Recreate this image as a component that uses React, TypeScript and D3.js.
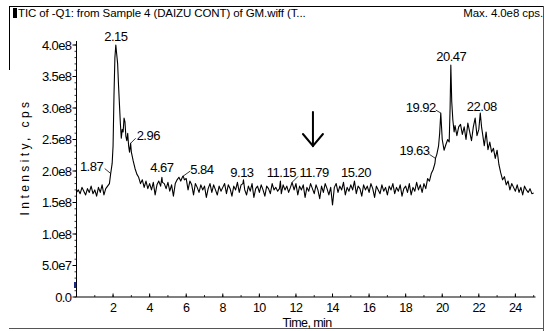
import React from "react";
import * as d3 from "d3";

// Total ion chromatogram (TIC), intensity in units of 1e8 cps
const scanTimes = [
  0.0, 0.1, 0.2, 0.3, 0.4, 0.5, 0.6, 0.7, 0.8, 0.9,
  1.0, 1.1, 1.2, 1.3, 1.4, 1.5, 1.6, 1.7, 1.8, 1.87, 1.95,
  2.0, 2.05, 2.1, 2.15, 2.2, 2.25, 2.3, 2.35, 2.4, 2.45, 2.5, 2.55, 2.6, 2.65, 2.7, 2.75, 2.8, 2.85, 2.9, 2.96,
  3.0, 3.1, 3.2, 3.3, 3.4, 3.5, 3.6, 3.7, 3.8, 3.9,
  4.0, 4.1, 4.2, 4.3, 4.4, 4.5, 4.6, 4.67, 4.7, 4.8, 4.9,
  5.0, 5.1, 5.2, 5.3, 5.4, 5.5, 5.6, 5.7, 5.8, 5.84, 5.9,
  6.0, 6.1, 6.2, 6.3, 6.4, 6.5, 6.6, 6.7, 6.8, 6.9,
  7.0, 7.1, 7.2, 7.3, 7.4, 7.5, 7.6, 7.7, 7.8, 7.9,
  8.0, 8.1, 8.2, 8.3, 8.4, 8.5, 8.6, 8.7, 8.8, 8.9,
  9.0, 9.1, 9.13, 9.2, 9.3, 9.4, 9.5, 9.6, 9.7, 9.8, 9.9,
  10.0, 10.1, 10.2, 10.3, 10.4, 10.5, 10.6, 10.7, 10.8, 10.9,
  11.0, 11.1, 11.15, 11.2, 11.3, 11.4, 11.5, 11.6, 11.7, 11.79, 11.9,
  12.0, 12.1, 12.2, 12.3, 12.4, 12.5, 12.6, 12.7, 12.8, 12.9,
  13.0, 13.1, 13.2, 13.3, 13.4, 13.5, 13.6, 13.7, 13.8, 13.9,
  14.0, 14.1, 14.2, 14.3, 14.4, 14.5, 14.6, 14.7, 14.8, 14.9,
  15.0, 15.1, 15.2, 15.3, 15.4, 15.5, 15.6, 15.7, 15.8, 15.9,
  16.0, 16.1, 16.2, 16.3, 16.4, 16.5, 16.6, 16.7, 16.8, 16.9,
  17.0, 17.1, 17.2, 17.3, 17.4, 17.5, 17.6, 17.7, 17.8, 17.9,
  18.0, 18.1, 18.2, 18.3, 18.4, 18.5, 18.6, 18.7, 18.8, 18.9,
  19.0, 19.1, 19.2, 19.3, 19.4, 19.5, 19.6, 19.63, 19.7, 19.8, 19.86, 19.92,
  20.0, 20.1, 20.2, 20.3, 20.38, 20.43, 20.47, 20.52, 20.58, 20.65, 20.7, 20.8, 20.9,
  21.0, 21.1, 21.2, 21.3, 21.4, 21.5, 21.6, 21.7, 21.8, 21.9,
  22.0, 22.08, 22.15, 22.2, 22.3, 22.4, 22.5, 22.6, 22.7, 22.8, 22.9,
  23.0, 23.1, 23.2, 23.3, 23.4, 23.5, 23.6, 23.7, 23.8, 23.9,
  24.0, 24.1, 24.2, 24.3, 24.4, 24.5, 24.6, 24.7, 24.8, 24.9, 25.0,
];

const intensityE8 = [
  1.66, 1.70, 1.64, 1.74, 1.68, 1.62, 1.72, 1.66, 1.76, 1.64,
  1.70, 1.60, 1.74, 1.66, 1.78, 1.62, 1.72, 1.76, 1.80, 1.96, 2.12,
  2.40, 3.20, 3.80, 4.00, 3.85, 3.70, 3.35, 3.05, 2.75, 2.52, 2.66, 2.62, 2.84, 2.78, 2.55, 2.48, 2.60, 2.40, 2.30, 2.44,
  2.30, 2.16, 2.04, 1.95, 1.90, 1.80, 1.86, 1.74, 1.84, 1.72,
  1.80, 1.70, 1.82, 1.62, 1.78, 1.84, 1.76, 1.90, 1.82, 1.80, 1.72,
  1.82, 1.68, 1.78, 1.60, 1.80, 1.86, 1.90, 1.84, 1.91, 1.92, 1.86,
  1.88, 1.70, 1.84, 1.78, 1.62, 1.80, 1.74, 1.66, 1.78, 1.70,
  1.76, 1.58, 1.72, 1.80, 1.66, 1.78, 1.70, 1.62, 1.76, 1.68,
  1.74, 1.80, 1.64, 1.78, 1.72, 1.60, 1.76, 1.70, 1.82, 1.66,
  1.78, 1.80, 1.86, 1.70, 1.62, 1.76, 1.68, 1.80, 1.58, 1.72, 1.76,
  1.66, 1.78, 1.70, 1.60, 1.76, 1.72, 1.64, 1.80, 1.70, 1.74,
  1.68, 1.72, 1.84, 1.64, 1.78, 1.70, 1.76, 1.66, 1.74, 1.82, 1.70,
  1.80, 1.62, 1.76, 1.70, 1.78, 1.58, 1.74, 1.68, 1.80, 1.72,
  1.64, 1.78, 1.70, 1.56, 1.76, 1.66, 1.80, 1.72, 1.62, 1.74,
  1.46, 1.74, 1.80, 1.66, 1.76, 1.70, 1.82, 1.62, 1.74, 1.68,
  1.78, 1.70, 1.84, 1.64, 1.76, 1.72, 1.60, 1.78, 1.70, 1.76,
  1.66, 1.80, 1.72, 1.58, 1.76, 1.70, 1.64, 1.78, 1.68, 1.74,
  1.62, 1.76, 1.70, 1.80, 1.64, 1.74, 1.68, 1.78, 1.60, 1.72,
  1.76, 1.66, 1.80, 1.62, 1.74, 1.68, 1.82, 1.70, 1.78, 1.66,
  1.80, 1.72, 1.88, 1.84, 1.96, 2.02, 2.12, 2.20, 2.26, 2.40, 2.60, 2.92,
  2.50, 2.33, 2.42, 2.50, 2.46, 3.00, 3.68, 3.10, 2.81, 2.62, 2.72, 2.56, 2.70,
  2.74, 2.58, 2.70, 2.50, 2.76, 2.62, 2.48, 2.70, 2.84, 2.56,
  2.66, 2.92, 2.70, 2.60, 2.40, 2.62, 2.34, 2.46, 2.30, 2.36, 2.20,
  2.33, 2.10, 1.97, 1.86, 1.91, 1.78, 1.84, 1.70, 1.80, 1.74,
  1.68, 1.78, 1.66, 1.74, 1.62, 1.76, 1.70, 1.66, 1.72, 1.64, 1.65,
];

const xTickValues = [2, 4, 6, 8, 10, 12, 14, 16, 18, 20, 22, 24];
const xMinorValues = d3.range(1, 26);
const yTickValues = [0, 0.5, 1.0, 1.5, 2.0, 2.5, 3.0, 3.5, 4.0];
const yTickLabels = ["0.0", "5.0e7", "1.0e8", "1.5e8", "2.0e8", "2.5e8", "3.0e8", "3.5e8", "4.0e8"];
const yMinorValues = d3.range(0, 41).map((i) => i / 10);

const peakTimes = [1.87, 2.15, 2.96, 4.67, 5.84, 9.13, 11.15, 11.79, 15.2, 19.63, 19.92, 20.47, 22.08];
const peakLabels = ["1.87", "2.15", "2.96", "4.67", "5.84", "9.13", "11.15", "11.79", "15.20", "19.63", "19.92", "20.47", "22.08"];

// Label placement around each apex: text offset, anchor and optional leader line
const labelLayout: { dx: number; dy: number; anchor: string; leader?: [number, number] }[] = [
  { dx: -7.5, dy: -3, anchor: "end", leader: [-6, -5] },
  { dx: 0, dy: -4, anchor: "middle" },
  { dx: 6, dy: -3, anchor: "start", leader: [5, -5] },
  { dx: 0, dy: -5, anchor: "middle" },
  { dx: 7, dy: -2, anchor: "start", leader: [7, -5] },
  { dx: -1.5, dy: -3, anchor: "middle" },
  { dx: 1, dy: -4, anchor: "middle" },
  { dx: 7.5, dy: -5, anchor: "start", leader: [6, -6] },
  { dx: 1.5, dy: -4, anchor: "middle" },
  { dx: -6, dy: -3, anchor: "end", leader: [-6, -4] },
  { dx: -5, dy: -1, anchor: "end", leader: [-5, -3] },
  { dx: 0.5, dy: -4, anchor: "middle" },
  { dx: 1.5, dy: -2, anchor: "middle" },
];

const FONT = "'Liberation Sans', Arial, sans-serif";

export default function App() {
  const x = d3.scaleLinear().domain([0, 25.1]).range([76.5, 535.5]);
  const y = d3.scaleLinear().domain([0, 4.0]).range([297, 45]);

  const points = scanTimes.map((t, i) => [t, intensityE8[i]] as [number, number]);
  const line = d3
    .line<[number, number]>()
    .x((d) => x(d[0]))
    .y((d) => y(d[1]));

  const x0 = x(0);
  const y0 = y(0);

  return (
    <svg
      width={548}
      height={331}
      style={{ position: "absolute", left: 0, top: 0, background: "#fff" }}
      fontFamily={FONT}
    >
      <rect x={0} y={0} width={548} height={331} fill="#fff" />

      {/* panel frame */}
      <line x1={9} x2={543.5} y1={6.5} y2={6.5} stroke="#000" strokeWidth={1} />
      <line x1={9.5} x2={9.5} y1={6} y2={70} stroke="#000" strokeWidth={1} />
      <line x1={543.5} x2={543.5} y1={6} y2={331} stroke="#555" strokeWidth={1} />
      <line x1={9} x2={543.5} y1={328.5} y2={328.5} stroke="#555" strokeWidth={1} />
      <rect x={13} y={8} width={4} height={10} fill="#000" />

      {/* header */}
      <text x={18} y={17} fontSize={11.5} letterSpacing={-0.1} fill="#000">
        TIC of -Q1: from Sample 4 (DAIZU CONT) of GM.wiff (T...
      </text>
      <text x={543} y={17} fontSize={11.5} letterSpacing={-0.1} textAnchor="end" fill="#000">
        Max. 4.0e8 cps.
      </text>

      {/* y axis */}
      <line x1={x0} x2={x0} y1={y(4.0) - 4} y2={y0} stroke="#000" strokeWidth={1} />
      {yMinorValues.map((v) => (
        <line key={"ym" + v} x1={x0 - 2} x2={x0} y1={y(v)} y2={y(v)} stroke="#000" strokeWidth={0.8} />
      ))}
      {yTickValues.map((v, i) => (
        <g key={"yt" + v}>
          <line x1={x0 - 4} x2={x0} y1={y(v)} y2={y(v)} stroke="#000" strokeWidth={1} />
          <text x={x0 - 5} y={y(v)} dy="0.36em" fontSize={13} letterSpacing={-0.6} textAnchor="end" fill="#000">
            {yTickLabels[i]}
          </text>
        </g>
      ))}
      <rect x={74} y={282} width={2.2} height={6} fill="#1a2a80" />
      <text
        transform={`translate(29,157) rotate(-90)`}
        fontSize={12}
        letterSpacing={3.4}
        textAnchor="middle"
        fill="#000"
      >
        Intensity, cps
      </text>

      {/* x axis */}
      <line x1={x0} x2={x(25.1)} y1={y0} y2={y0} stroke="#000" strokeWidth={1} />
      {xMinorValues.map((v) => (
        <line key={"xm" + v} x1={x(v)} x2={x(v)} y1={y0} y2={y0 - 2} stroke="#000" strokeWidth={0.8} />
      ))}
      {xTickValues.map((v) => (
        <g key={"xt" + v}>
          <line x1={x(v)} x2={x(v)} y1={y0} y2={y0 - 3.5} stroke="#000" strokeWidth={1} />
          <text x={x(v)} y={311.5} fontSize={12.5} letterSpacing={-0.6} textAnchor="middle" fill="#000">
            {v}
          </text>
        </g>
      ))}
      <text x={307} y={326.5} fontSize={12.5} letterSpacing={-0.6} textAnchor="middle" fill="#000">
        Time, min
      </text>

      {/* trace */}
      <path d={line(points) ?? ""} fill="none" stroke="#000" strokeWidth={1.1} strokeLinejoin="round" />

      {/* apex labels */}
      {peakTimes.map((t, i) => {
        const idx = scanTimes.indexOf(t);
        const px = x(t);
        const py = y(intensityE8[idx]);
        const L = labelLayout[i];
        return (
          <g key={"pk" + i}>
            {L.leader && (
              <line
                x1={px}
                y1={py}
                x2={px + L.leader[0]}
                y2={py + L.leader[1]}
                stroke="#000"
                strokeWidth={0.8}
              />
            )}
            <text
              x={px + L.dx}
              y={py + L.dy}
              fontSize={13}
              letterSpacing={-0.5}
              textAnchor={L.anchor as any}
              fill="#000"
            >
              {peakLabels[i]}
            </text>
          </g>
        );
      })}

      {/* annotation arrow */}
      <g stroke="#000" strokeWidth={2} fill="none" strokeLinecap="round">
        <line x1={x(12.93)} x2={x(12.93)} y1={112} y2={146} />
        <polyline points={`${x(12.93) - 10},${134} ${x(12.93)},${146} ${x(12.93) + 10},${134}`} />
      </g>
    </svg>
  );
}
